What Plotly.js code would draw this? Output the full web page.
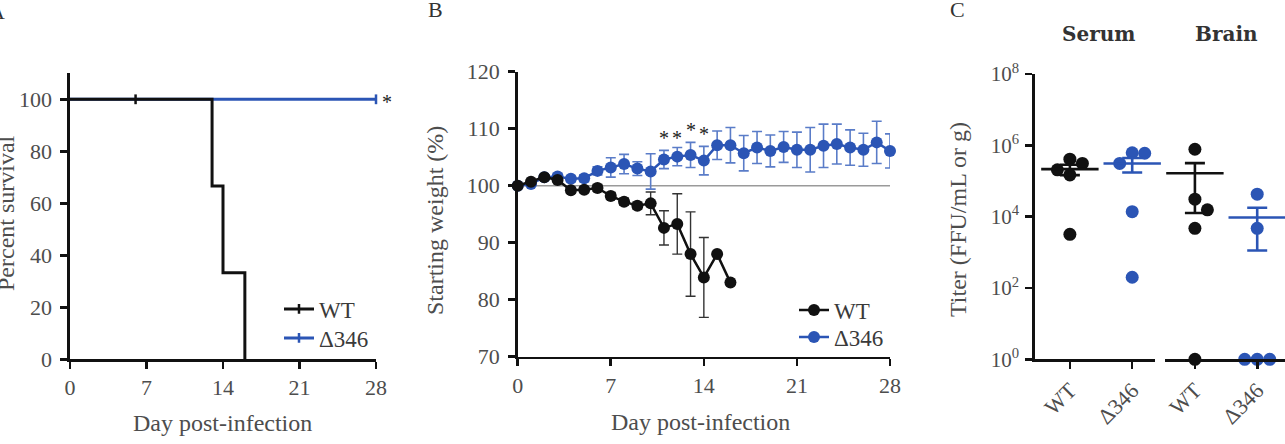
<!DOCTYPE html>
<html>
<head>
<meta charset="utf-8">
<script src="https://cdn.plot.ly/plotly-3.0.1.min.js"></script>
<style>
  html, body { margin: 0; padding: 0; background: #fff; }
  #chart { width: 1285px; height: 444px; }
</style>
</head>
<body>
<div id="chart"></div>
<script>
// ---- Panel A: Kaplan-Meier survival (percent) ----
const wtSurvDays = [0, 13, 14, 16];
const wtSurv = [100, 66.7, 33.3, 0];
const mutSurvDays = [0, 28];
const mutSurv = [100, 100];
const wtCensorDays = [6];
const wtCensorSurv = [100];
const mutCensorDays = [28];
const mutCensorSurv = [100];

// ---- Panel B: body weight (% of starting weight), mean ± SEM ----
const wtWeightDays = [0, 1, 2, 3, 4, 5, 6, 7, 8, 9, 10, 11, 12, 13, 14, 15, 16];
const wtWeight = [100, 100.7, 101.5, 101.0, 99.2, 99.3, 99.6, 98.2, 97.2, 96.5, 96.9, 92.6, 93.3, 88.0, 83.9, 88.0, 83.0];
const wtWeightSem = [0.3, 0.3, 0.4, 0.4, 0.5, 0.5, 0.6, 0.6, 0.6, 0.6, 2.0, 3.0, 5.3, 7.4, 7.0, 0, 0];
const mutWeightDays = [0, 1, 2, 3, 4, 5, 6, 7, 8, 9, 10, 11, 12, 13, 14, 15, 16, 17, 18, 19, 20, 21, 22, 23, 24, 25, 26, 27, 28];
const mutWeight = [100, 100.3, 101.5, 101.6, 101.2, 101.3, 102.6, 103.2, 103.8, 103.0, 102.5, 104.6, 105.1, 105.4, 104.4, 107.1, 107.1, 105.7, 106.7, 106.1, 106.8, 106.3, 106.3, 107.0, 107.3, 106.7, 106.3, 107.6, 106.1];
const mutWeightSem = [0.2, 0.3, 0.4, 0.5, 0.5, 0.6, 0.7, 1.7, 1.7, 1.2, 3.1, 1.6, 1.6, 2.2, 2.5, 2.5, 3.1, 3.1, 2.8, 2.8, 2.7, 3.1, 3.9, 3.8, 3.5, 3.1, 2.9, 3.7, 3.0];
const sigDays = [11, 12, 13, 14];
const sigLevel = [109.0, 109.0, 110.5, 109.8];

// ---- Panel C: viral titers (FFU/mL or g); 1 = below detection ----
const groupNames = ['WT', 'Δ346'];
const serumWT = [410000, 310000, 205000, 148000, 3200];
const serumMut = [600000, 615000, 310000, 13800, 200];
const brainWT = [775000, 31000, 15500, 4700, 1];
const brainMut = [42700, 4700, 1, 1, 1];
const titerTicks = [1, 1e2, 1e4, 1e6, 1e8];
const titerTickText = ['10<sup>0</sup>', '10<sup>2</sup>', '10<sup>4</sup>', '10<sup>6</sup>', '10<sup>8</sup>'];

// ---- styling ----
const W = 1285, H = 444;
const BLACK = '#111111';
const BLUE = '#2b55b5';
const SERIF = 'Liberation Serif';
const TICK_FONT = { family: SERIF, size: 22, color: '#4d4d4d' };
const TITLE_FONT = { family: SERIF, size: 24, color: '#4d4d4d' };
const LEGEND_FONT = { family: SERIF, size: 23, color: '#3a3a3a' };
const px = v => v / W;
const py = v => 1 - v / H;

// mean and SEM on the linear scale
function meanOf(a) { return a.reduce((s, v) => s + v, 0) / a.length; }
function semOf(a) {
  const m = meanOf(a);
  const v = a.reduce((s, x) => s + (x - m) * (x - m), 0) / (a.length - 1);
  return Math.sqrt(v / a.length);
}

// simple beeswarm: spread overlapping dots sideways (pixel space)
const PX_PER_DECADE = 285.3 / 8;
const PX_PER_CAT = 62.3;
function swarm(values, diam) {
  const order = values.map((v, i) => i).sort((a, b) => values[b] - values[a]);
  const placed = [];
  const offs = new Array(values.length).fill(0);
  order.forEach(i => {
    const yp = Math.log10(values[i]) * PX_PER_DECADE;
    const cands = [0];
    for (let k = 1; k < 6; k++) { cands.push(k * diam, -k * diam); }
    for (const dx of cands) {
      const ok = placed.every(p => Math.hypot(p.x - dx, p.y - yp) >= diam - 0.5);
      if (ok) { offs[i] = dx; placed.push({ x: dx, y: yp }); break; }
    }
  });
  return offs.map(o => o / PX_PER_CAT);
}

const traces = [];

// Panel A
traces.push({
  x: mutSurvDays, y: mutSurv, xaxis: 'x', yaxis: 'y', mode: 'lines',
  line: { color: BLUE, width: 3, shape: 'hv' }, showlegend: false, cliponaxis: false, hoverinfo: 'skip'
});
traces.push({
  x: wtSurvDays, y: wtSurv, xaxis: 'x', yaxis: 'y', mode: 'lines',
  line: { color: BLACK, width: 3, shape: 'hv' }, showlegend: false, cliponaxis: false, hoverinfo: 'skip'
});
traces.push({
  x: wtCensorDays, y: wtCensorSurv, xaxis: 'x', yaxis: 'y', mode: 'lines+markers', name: 'WT',
  line: { color: BLACK, width: 3 },
  marker: { symbol: 'line-ns', size: 7, line: { color: BLACK, width: 2.5 } },
  legend: 'legend', cliponaxis: false
});
traces.push({
  x: mutCensorDays, y: mutCensorSurv, xaxis: 'x', yaxis: 'y', mode: 'lines+markers', name: 'Δ346',
  line: { color: BLUE, width: 3 },
  marker: { symbol: 'line-ns', size: 7, line: { color: BLUE, width: 2.5 } },
  legend: 'legend3', cliponaxis: false
});

// Panel B
traces.push({
  x: mutWeightDays, y: mutWeight, xaxis: 'x2', yaxis: 'y2', mode: 'lines+markers', name: 'Δ346',
  line: { color: BLUE, width: 2.5 },
  marker: { symbol: 'circle', size: 12, color: BLUE },
  error_y: { type: 'data', array: mutWeightSem, visible: true, color: '#5a7cc8', thickness: 1.6, width: 5 },
  legend: 'legend4', cliponaxis: false
});
traces.push({
  x: wtWeightDays, y: wtWeight, xaxis: 'x2', yaxis: 'y2', mode: 'lines+markers', name: 'WT',
  line: { color: BLACK, width: 2.5 },
  marker: { symbol: 'circle', size: 12, color: BLACK },
  error_y: { type: 'data', array: wtWeightSem, visible: true, color: '#333333', thickness: 1.4, width: 5 },
  legend: 'legend2', cliponaxis: false
});

// Panel C
const groups = [
  { vals: serumWT, cat: 0, xa: 'x3', color: BLACK },
  { vals: serumMut, cat: 1, xa: 'x3', color: BLUE },
  { vals: brainWT, cat: 0, xa: 'x4', color: BLACK },
  { vals: brainMut, cat: 1, xa: 'x4', color: BLUE }
];
groups.forEach(g => {
  const offs = swarm(g.vals, 12.5);
  traces.push({
    x: g.vals.map((v, i) => g.cat + offs[i]), y: g.vals, xaxis: g.xa, yaxis: 'y3',
    mode: 'markers', marker: { symbol: 'circle', size: 13, color: g.color },
    showlegend: false, cliponaxis: false, hoverinfo: 'y'
  });
});
groups.forEach(g => {
  traces.push({
    x: [g.cat], y: [meanOf(g.vals)], xaxis: g.xa, yaxis: 'y3', mode: 'markers',
    marker: { symbol: 'line-ew', size: 41, color: g.color, line: { color: g.color, width: 2.6 } },
    error_y: { type: 'data', array: [semOf(g.vals)], visible: true, color: g.color, thickness: 2.6, width: 10 },
    showlegend: false, cliponaxis: false, hoverinfo: 'y'
  });
});

const axisBase = {
  showline: true, linewidth: 2.6, linecolor: BLACK, ticks: 'outside', ticklen: 7, tickwidth: 2.6,
  tickcolor: BLACK, showgrid: false, zeroline: false, tickfont: TICK_FONT, fixedrange: true
};

// centred text placed at a pixel position
function label(text, x, y, font, extra) {
  return Object.assign({
    text: text, xref: 'paper', yref: 'paper', x: px(x), y: py(y),
    xanchor: 'center', yanchor: 'middle', showarrow: false, font: font
  }, extra || {});
}

// one legend entry centred vertically at a pixel position
function legendAt(x, y) {
  return {
    x: px(x), y: py(y), xanchor: 'left', yanchor: 'middle', bgcolor: 'rgba(0,0,0,0)',
    font: LEGEND_FONT, borderwidth: 0
  };
}

const PANEL_FONT = { family: SERIF, size: 22, color: '#333' };
const HEAD_FONT = { family: 'DejaVu Serif', size: 20, color: '#333' };
const STAR_FONT = { family: SERIF, size: 20, color: '#222' };

const layout = {
  width: W, height: H,
  margin: { l: 0, r: 0, t: 0, b: 0 },
  paper_bgcolor: '#ffffff', plot_bgcolor: 'rgba(0,0,0,0)',
  font: { family: SERIF, color: '#4d4d4d' },
  xaxis: Object.assign({}, axisBase, { domain: [px(70), px(376)], range: [0, 28], tickvals: [0, 7, 14, 21, 28], anchor: 'y' }),
  yaxis: Object.assign({}, axisBase, { domain: [py(359.3), py(73.3)], range: [0, 110], tickvals: [0, 20, 40, 60, 80, 100], anchor: 'x', ticklabelstandoff: 4 }),
  xaxis2: Object.assign({}, axisBase, { domain: [px(517.7), px(890)], range: [0, 28], tickvals: [0, 7, 14, 21, 28], anchor: 'y2' }),
  yaxis2: Object.assign({}, axisBase, { domain: [py(356.7), py(71.7)], range: [70, 120], tickvals: [70, 80, 90, 100, 110, 120], anchor: 'x2', ticklabelstandoff: 4 }),
  xaxis3: Object.assign({}, axisBase, { domain: [px(1035), px(1155)], range: [-0.56, 1.366], tickvals: [0, 1], ticktext: groupNames, tickangle: -45, anchor: 'y3' }),
  xaxis4: Object.assign({}, axisBase, { domain: [px(1165), 1], range: [-0.48, 1.446], tickvals: [0, 1], ticktext: groupNames, tickangle: -45, anchor: 'y3' }),
  yaxis3: Object.assign({}, axisBase, {
    domain: [py(359.3), py(74)], type: 'log', range: [0, 8], tickvals: titerTicks, ticktext: titerTickText,
    anchor: 'x3', tickfont: { family: SERIF, size: 21, color: '#4d4d4d' }, ticklabelstandoff: 2
  }),
  legend: legendAt(279, 309),
  legend3: legendAt(279, 338),
  legend2: legendAt(794, 310),
  legend4: legendAt(794, 337),
  shapes: [
    // 100% reference line in panel B
    { type: 'line', xref: 'x2', yref: 'y2', x0: 0, x1: 28, y0: 100, y1: 100, line: { color: '#9a9a9a', width: 1.6 }, layer: 'below' }
  ],
  annotations: [
    label('A', -3, 12, PANEL_FONT),
    label('B', 435, 10, PANEL_FONT),
    label('C', 957, 9, PANEL_FONT),
    label('Percent survival', 6, 213, TITLE_FONT, { textangle: -90 }),
    label('Day post-infection', 222, 423, TITLE_FONT),
    label('Starting weight (%)', 435, 221, TITLE_FONT, { textangle: -90 }),
    label('Day post-infection', 701, 422, TITLE_FONT),
    label('Titer (FFU/mL or g)', 958, 220, TITLE_FONT, { textangle: -90 }),
    label('<b>Serum</b>', 1098, 34, HEAD_FONT),
    label('<b>Brain</b>', 1226, 34, HEAD_FONT),
    { text: '*', xref: 'x', yref: 'y', x: 28, y: 100, xshift: 11, yshift: -3, xanchor: 'center', yanchor: 'middle', showarrow: false, font: STAR_FONT }
  ].concat(sigDays.map((d, i) => ({
    text: '*', xref: 'x2', yref: 'y2', x: d, y: sigLevel[i], yshift: -4, xanchor: 'center', yanchor: 'middle',
    showarrow: false, font: STAR_FONT
  })))
};

Plotly.newPlot('chart', traces, layout, { displayModeBar: false, staticPlot: true });
</script>
</body>
</html>
